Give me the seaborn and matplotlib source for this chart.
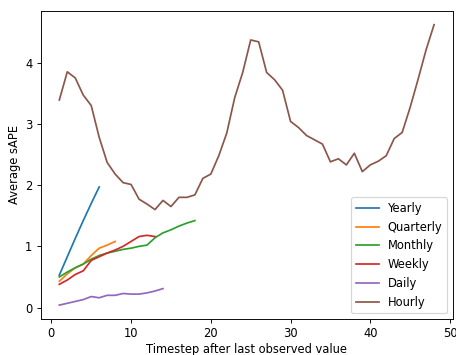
import matplotlib
matplotlib.use("Agg")
import matplotlib.pyplot as plt
import seaborn as sns
import pandas as pd

yearly = [0.53, 0.83, 1.13, 1.42, 1.70, 1.97]
quarterly = [0.43, 0.55, 0.65, 0.71, 0.85, 0.97, 1.02, 1.08]
monthly = [0.50, 0.58, 0.65, 0.71, 0.79, 0.85, 0.89, 0.92, 0.95, 0.97, 1.00, 1.02,
           1.14, 1.22, 1.27, 1.33, 1.38, 1.42]
weekly = [0.38, 0.45, 0.54, 0.60, 0.77, 0.83, 0.89, 0.94, 1.00, 1.08, 1.16, 1.18, 1.16]
daily = [0.04, 0.07, 0.10, 0.13, 0.18, 0.16, 0.20, 0.20, 0.23, 0.22, 0.22, 0.24, 0.27, 0.31]
hourly = [3.39, 3.85, 3.75, 3.47, 3.30, 2.78, 2.37, 2.18, 2.04, 2.01, 1.77, 1.69,
          1.60, 1.75, 1.65, 1.80, 1.80, 1.84, 2.11, 2.18, 2.48, 2.85, 3.43, 3.84,
          4.37, 4.34, 3.84, 3.72, 3.55, 3.04, 2.94, 2.81, 2.74, 2.67, 2.38, 2.43,
          2.33, 2.52, 2.22, 2.33, 2.39, 2.48, 2.76, 2.86, 3.27, 3.73, 4.21, 4.62]

series = {"Yearly": yearly, "Quarterly": quarterly, "Monthly": monthly,
          "Weekly": weekly, "Daily": daily, "Hourly": hourly}

rows = []
for name, vals in series.items():
    for i, v in enumerate(vals):
        rows.append({"step": i + 1, "value": v, "freq": name})
df = pd.DataFrame(rows)

DPI = 83
fig, ax = plt.subplots(figsize=(456 / DPI, 355 / DPI), dpi=DPI)
fig.subplots_adjust(left=0.089, right=0.993, bottom=0.101, top=0.970)
sns.lineplot(data=df, x="step", y="value", hue="freq", ax=ax,
             palette=sns.color_palette("tab10", 6))
ax.set_xlabel("Timestep after last observed value", labelpad=2)
ax.set_ylabel("Average sAPE")
ax.legend(loc="lower right")
fig.savefig("out.png", dpi=DPI)
